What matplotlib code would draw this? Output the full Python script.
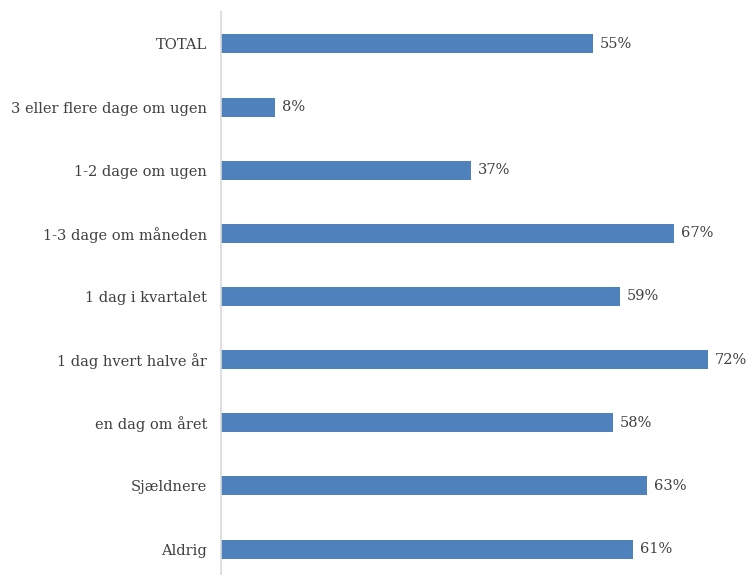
import matplotlib
matplotlib.use("Agg")
import matplotlib.pyplot as plt

categories = ["TOTAL", "3 eller flere dage om ugen", "1-2 dage om ugen",
              "1-3 dage om måneden", "1 dag i kvartalet", "1 dag hvert halve år",
              "en dag om året", "Sjældnere", "Aldrig"]
values = [55, 8, 37, 67, 59, 72, 58, 63, 61]

W, H = 749, 575
fig = plt.figure(figsize=(W/100, H/100), dpi=100)
top_px, bot_px = 12.4, 580.6
left_px, right_px = 221, 740
ax = fig.add_axes([left_px/W, (H-bot_px)/H, (right_px-left_px)/W, (bot_px-top_px)/H])

ypos = list(range(len(categories)))
ax.barh(ypos, values, height=0.30, color="#4f81bd")
ax.set_ylim(len(categories)-0.5, -0.5)
ax.set_xlim(0, (right_px-left_px)/6.76)

FONT = "DejaVu Serif"
for y, v in zip(ypos, values):
    ax.text(v + 1.0, y, f"{v}%", va="center", ha="left",
            fontsize=10.5, color="#404040", family=FONT)

ax.set_yticks(ypos)
ax.set_yticklabels(categories, fontsize=10.5, color="#404040", family=FONT)
ax.tick_params(axis="y", length=0, pad=10)
ax.set_xticks([])
for s in ["top", "right", "bottom"]:
    ax.spines[s].set_visible(False)
ax.spines["left"].set_color("#d9d9d9")
ax.spines["left"].set_linewidth(1.2)

fig.savefig("out.png", dpi=100)
